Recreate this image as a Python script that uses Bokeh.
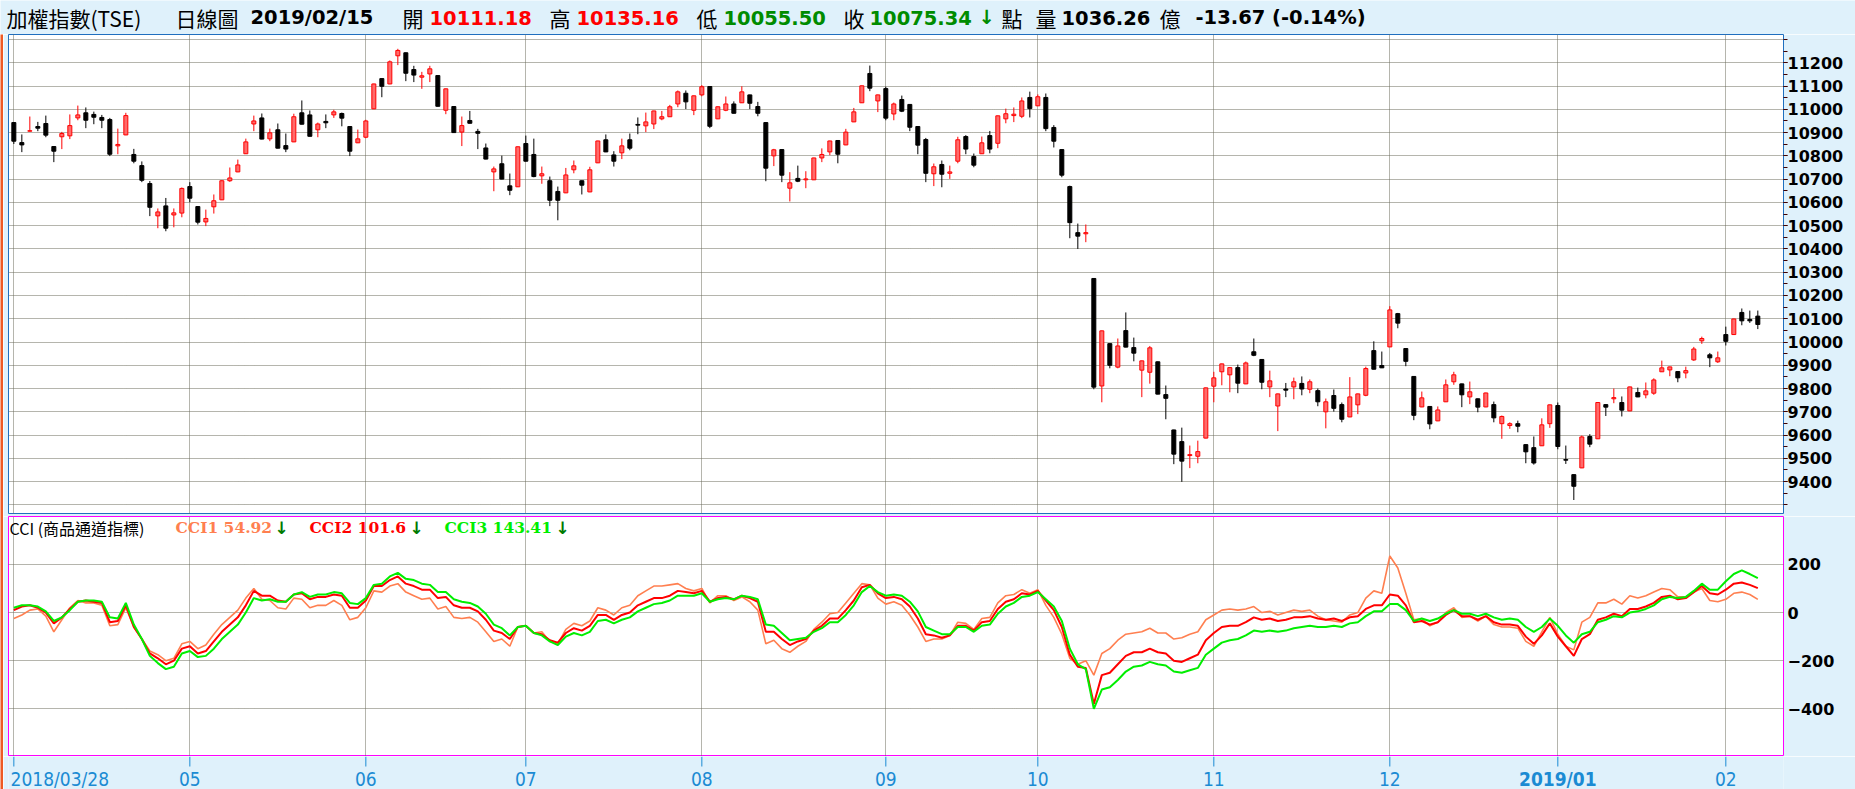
import numpy as np
from bokeh.plotting import figure
from bokeh.layouts import column, row
from bokeh.models import ColumnDataSource, FixedTicker, Range1d
from bokeh.core.properties import value
from bokeh.embed import file_html
from bokeh.resources import INLINE

# ---------------- data ----------------
opens = [10943,10857,10906,10926,10939,10840,10882,10886,10963,10985,10978,10965,10956,10843,10890,10806,10758,10681,10542,10585,
         10546,10554,10668,10582,10516,10581,10611,10693,10731,10809,10937,10963,10873,10912,10844,10860,10985,10976,10912,10948,
         10976,10982,10926,10856,10880,11002,11132,11109,11230,11243,11171,11138,11152,11145,10996,11012,10902,10952,10905,10834,
         10731,10766,10671,10667,10853,10806,10714,10693,10647,10641,10740,10693,10645,10770,10869,10804,10813,10869,10935,10929,
         10937,10959,10968,11023,11069,10996,11062,11098,10959,10996,11023,11028,11062,11012,10943,10800,10827,10661,10703,10697,
         10697,10791,10817,10866,10847,10946,11028,11154,11036,11089,10980,11042,11021,10926,10870,10723,10763,10725,10777,10883,
         10797,10809,10887,10854,10959,10973,10970,11051,11015,11051,10922,10827,10668,10470,10465,10273,9811,9993,9892,10049,
         9976,9879,9870,9915,9774,9622,9572,9512,9509,9587,9810,9872,9859,9890,9820,9958,9925,9807,9725,9798,
         9807,9822,9797,9791,9700,9770,9731,9678,9730,9771,9963,9899,9979,10122,9972,9852,9721,9723,9661,9743,
         9829,9820,9764,9756,9721,9731,9649,9641,9649,9559,9546,9554,9649,9727,9495,9430,9459,9594,9584,9731,
         9756,9740,9704,9783,9773,9780,9872,9880,9873,9867,9923,10005,9945,9915,10032,10032,10127,10097,10111.18]
highs = [10945,10892,10969,10946,10973,10842,10903,10978,11016,11008,10990,10976,10963,10917,10985,10830,10776,10692,10574,10619,
         10574,10664,10687,10583,10569,10634,10695,10750,10784,10874,10973,10982,10917,10939,10896,10981,11038,10995,10943,10978,
         10998,10986,10927,10913,10955,11110,11133,11210,11260,11244,11187,11161,11187,11146,11089,11013,10969,10993,10916,10853,
         10754,10801,10724,10840,10887,10874,10754,10711,10668,10748,10780,10694,10753,10865,10892,10820,10874,10896,10965,10986,
         10994,10993,11019,11081,11081,11059,11104,11099,11012,11055,11034,11099,11063,11032,10944,10830,10828,10730,10758,10734,
         10792,10832,10865,10867,10916,11006,11102,11188,11063,11097,11029,11059,11022,10927,10877,10767,10780,10758,10882,10889,
         10810,10883,10907,10973,11003,11008,11051,11076,11064,11068,10932,10828,10672,10509,10505,10274,10049,9994,10015,10127,
         10019,9920,9983,9916,9813,9623,9632,9555,9576,9804,9872,9907,9891,9903,9916,10015,9926,9877,9778,9824,
         9847,9852,9839,9800,9757,9796,9740,9849,9778,9894,10003,9959,10154,10125,9973,9853,9787,9724,9723,9839,
         9872,9821,9830,9757,9782,9744,9684,9655,9662,9560,9594,9672,9731,9740,9555,9431,9598,9604,9741,9732,
         9800,9766,9808,9804,9826,9844,9920,9894,9874,9894,9979,10023,9953,9959,10066,10100,10144,10135,10135.16]
lows = [10851,10816,10905,10906,10880,10773,10829,10872,10953,10919,10936,10919,10799,10807,10889,10768,10687,10541,10489,10476,
        10493,10536,10601,10505,10498,10552,10610,10688,10730,10808,10906,10871,10863,10832,10816,10859,10935,10883,10880,10919,
        10963,10927,10799,10855,10876,11001,11052,11108,11190,11121,11117,11088,11117,11012,10979,10899,10842,10939,10829,10785,
        10648,10699,10631,10666,10776,10708,10680,10584,10523,10640,10725,10634,10644,10769,10816,10754,10786,10824,10893,10902,
        10915,10953,10967,11009,11001,10975,11056,10919,10958,10992,10982,11027,11001,10970,10691,10756,10687,10604,10687,10661,
        10696,10773,10803,10768,10846,10945,11027,11078,10988,10953,10953,10988,10906,10807,10687,10670,10665,10701,10768,10807,
        10751,10808,10811,10833,10940,10945,10962,10965,11014,10906,10836,10708,10446,10400,10429,9797,9741,9887,9887,9977,
        9917,9763,9821,9775,9668,9475,9399,9458,9479,9586,9741,9814,9784,9780,9819,9939,9797,9763,9617,9763,
        9754,9771,9780,9724,9629,9701,9655,9677,9690,9767,9882,9888,9978,10059,9896,9664,9720,9625,9660,9742,
        9816,9720,9733,9698,9720,9655,9584,9627,9612,9479,9473,9553,9631,9539,9476,9321,9458,9548,9583,9682,
        9737,9680,9703,9763,9758,9773,9871,9853,9827,9844,9919,9992,9892,9910,9985,10031,10072,10082,10055.50]
closes = [10863,10847,10908,10919,10889,10820,10896,10930,10976,10953,10966,10953,10807,10849,10973,10777,10695,10579,10559,10489,
          10555,10660,10618,10515,10531,10607,10693,10705,10761,10860,10950,10872,10899,10833,10829,10968,10936,10884,10937,10942,
          10989,10962,10820,10873,10950,11109,11099,11204,11253,11155,11147,11144,11174,11013,11088,10900,10930,10940,10897,10786,
          10744,10700,10652,10839,10777,10711,10723,10609,10609,10718,10757,10674,10740,10864,10817,10777,10843,10833,10932,10946,
          10993,10968,11011,11075,11032,11058,11097,10927,11011,11023,10983,11075,11026,10983,10747,10826,10717,10684,10691,10701,
          10791,10806,10864,10807,10902,10989,11101,11091,11062,10962,11023,10992,10923,10846,10725,10753,10721,10731,10869,10829,
          10760,10856,10829,10972,10981,10979,11036,11003,11054,10917,10863,10717,10513,10455,10470,9806,10048,9900,9983,9978,
          9952,9919,9975,9776,9758,9518,9488,9516,9529,9803,9846,9906,9890,9823,9910,9943,9827,9833,9777,9793,
          9829,9798,9829,9743,9743,9715,9668,9764,9777,9886,9883,9889,10138,10081,9917,9685,9760,9648,9708,9816,
          9859,9773,9786,9720,9781,9674,9680,9649,9638,9528,9480,9644,9730,9551,9492,9380,9592,9561,9740,9720,
          9761,9707,9807,9764,9790,9837,9889,9893,9846,9877,9970,10015,9932,9932,10003,10099,10091,10091,10075.34]

cci1 = [-25,-10,10,15,-15,-80,-30,20,50,40,40,30,-55,-50,20,-60,-110,-160,-175,-200,
        -190,-130,-120,-150,-135,-90,-50,-20,10,60,100,55,50,20,15,60,55,20,30,30,
        50,30,-30,-20,20,90,85,110,120,85,70,55,60,15,25,-20,-25,-20,-40,-80,
        -120,-110,-140,-60,-55,-85,-80,-120,-130,-70,-45,-55,-35,20,10,-10,20,30,70,90,
        110,110,115,120,100,90,100,40,70,70,50,65,45,10,-130,-115,-150,-165,-140,-120,
        -70,-40,-5,0,40,80,120,115,60,35,45,30,-10,-60,-120,-110,-110,-95,-40,-45,
        -70,-25,-20,40,70,75,95,80,95,30,-20,-90,-190,-215,-200,-260,-170,-150,-115,-90,
        -85,-80,-65,-85,-85,-110,-105,-90,-80,-30,-10,10,15,10,15,25,0,5,-10,0,
        10,5,10,-15,-30,-35,-40,-10,0,60,90,80,235,185,80,-30,-25,-55,-40,0,
        20,-20,-15,-35,-15,-50,-60,-60,-65,-120,-140,-80,-20,-90,-140,-155,-40,-20,40,40,
        55,35,70,60,70,85,100,95,65,65,85,100,50,45,55,80,85,75,54.92]
cci2 = [10,25,30,20,0,-45,-20,15,45,50,45,40,-40,-35,30,-60,-110,-170,-190,-215,
        -200,-150,-140,-170,-160,-120,-80,-50,-20,30,90,70,70,50,45,75,80,55,65,65,
        75,70,20,20,50,110,110,135,150,120,110,95,95,60,65,30,20,20,5,-30,
        -75,-85,-110,-60,-55,-85,-90,-115,-125,-85,-65,-75,-55,-10,-10,-30,-10,0,30,45,
        60,60,70,90,85,80,90,45,60,65,55,70,60,45,-80,-80,-110,-135,-120,-110,
        -75,-55,-25,-25,10,50,105,115,80,60,65,55,25,-25,-90,-95,-105,-95,-55,-55,
        -75,-40,-35,15,45,55,80,75,90,50,10,-60,-175,-225,-230,-380,-260,-250,-215,-180,
        -165,-165,-150,-165,-170,-200,-205,-190,-175,-115,-85,-60,-55,-55,-40,-20,-30,-25,-35,-30,
        -20,-20,-15,-25,-30,-25,-35,-20,-15,15,30,30,75,70,30,-40,-35,-50,-40,-10,
        10,-15,-15,-30,-15,-40,-50,-50,-55,-100,-130,-95,-45,-100,-140,-180,-110,-90,-30,-20,
        -5,-15,15,15,25,40,65,70,55,60,85,110,80,75,95,120,125,115,101.6]
cci3 = [20,30,30,25,5,-35,-20,10,45,50,50,45,-20,-25,40,-50,-110,-180,-210,-235,
        -225,-170,-160,-185,-180,-150,-110,-80,-50,0,60,50,55,45,45,75,85,65,75,75,
        85,80,40,35,60,115,120,150,165,140,135,120,115,85,85,55,45,40,25,-5,
        -50,-65,-95,-60,-55,-85,-95,-120,-135,-100,-85,-95,-80,-35,-30,-45,-30,-20,5,20,
        35,40,50,70,70,70,80,45,55,60,55,70,65,55,-50,-55,-85,-115,-110,-105,
        -80,-65,-40,-40,-10,30,85,110,85,70,75,70,45,5,-60,-75,-90,-90,-60,-60,
        -80,-55,-50,-5,25,40,65,70,85,55,25,-35,-150,-215,-235,-400,-320,-310,-280,-245,
        -225,-220,-205,-215,-220,-245,-250,-240,-230,-175,-150,-125,-115,-110,-95,-75,-80,-75,-80,-75,
        -65,-60,-55,-60,-60,-55,-60,-45,-40,-15,5,5,35,35,10,-35,-25,-35,-25,-5,
        10,-5,-5,-15,-5,-20,-30,-25,-30,-60,-80,-60,-25,-55,-95,-125,-90,-80,-40,-30,
        -15,-20,0,5,15,30,55,65,60,65,90,120,95,95,130,160,175,160,143.41]

month_tick_idx = [0, 22, 44, 64, 86, 109, 128, 150, 172, 193, 214]
month_labels = ["2018/03/28", "05", "06", "07", "08", "09", "10", "11", "12", "2019/01", "02"]
month_label_style = ["normal"] * 9 + ["bold", "normal"]

price_ticks = list(range(9400, 11201, 100))
price_grid = list(range(9300, 11301, 100))
price_minor = list(range(9300, 11301, 50))
cci_ticks = [-400, -200, 0, 200]

header_texts = ["加權指數(TSE)", "日線圖", "2019/02/15", "開", "10111.18", "高", "10135.16", "低", "10055.50",
                "收", "10075.34", "↓", "點", "量", "1036.26", "億", "-13.67 (-0.14%)"]
cci_title = "CCI (商品通道指標)"
cci_legend = ["CCI1 54.92", "CCI2 101.6", "CCI3 143.41"]

# ---------------- style ----------------
BG = "#DFF1FB"
RED = "#FF0000"
RED_FILL = "#FF6B6B"
GREEN_TXT = "#008C00"
AXIS_BLUE = "#1B8BD3"
GRID = "#6A6A5A"
C1, C2, C3 = "#FF7F50", "#FF0000", "#00EE00"
PAGE_W, PAGE_H = 1855, 789
STRIPE_W = 3
LEFT = 5
FRAME_W = 1775
RIGHT = PAGE_W - STRIPE_W - LEFT - FRAME_W
NARROW = "DejaVu Sans Condensed, Liberation Sans Narrow, Roboto Condensed, Roboto, sans-serif"

xr = Range1d(-0.667, 221.21)


def px(xpage):
    """page pixel -> candle index units"""
    return (xpage - 13.33) / 8.0


# ---------------- header ----------------
hdr = figure(frame_width=PAGE_W, frame_height=34, x_range=Range1d(0, PAGE_W), y_range=Range1d(0, 34),
             x_axis_type=None, y_axis_type=None, toolbar_location=None, output_backend="svg",
             min_border=0)
hdr.grid.visible = False
hdr.outline_line_color = None
hdr.background_fill_color = BG
hdr.border_fill_color = BG

hx = [6, 175, 250, 402, 429, 549, 576, 696, 723, 843, 869, 978, 1001, 1035, 1061, 1159, 1195]
hcol = ["black", "black", "black", "black", RED, "black", RED, "black", GREEN_TXT, "black", GREEN_TXT, GREEN_TXT,
        "black", "black", "black", "black", "black"]
hbold = [False, False, True, False, True, False, True, False, True, False, True, True, False, False, True, False, True]
for x, t, col, b in zip(hx, header_texts, hcol, hbold):
    hdr.text(x=[x], y=[17], text=[t], text_color=col, text_baseline="middle", text_align="left",
             text_font=value("DejaVu Sans" if b else "Noto Sans CJK TC"),
             text_font_size="19.5px" if b else "21px", text_font_style="bold" if b else "normal")

# ---------------- left stripe ----------------
stripe = figure(frame_width=STRIPE_W, frame_height=PAGE_H - 34, x_axis_type=None, y_axis_type=None,
                toolbar_location=None, output_backend="svg", min_border=0)
stripe.grid.visible = False
stripe.outline_line_color = None
stripe.background_fill_color = "#EE5A24"
stripe.border_fill_color = "#EE5A24"

# ---------------- main price chart ----------------
p = figure(frame_width=FRAME_W, frame_height=479, x_range=xr, y_range=Range1d(9263, 11321.5),
           y_axis_location="right", toolbar_location=None, output_backend="svg",
           min_border_left=LEFT, min_border_right=RIGHT, min_border_top=0, min_border_bottom=3)
p.background_fill_color = "white"
p.border_fill_color = BG
p.outline_line_color = "#1F6FBF"
p.outline_line_width = 1
p.xaxis.visible = False

p.ygrid.ticker = FixedTicker(ticks=price_grid)
p.xgrid.ticker = FixedTicker(ticks=month_tick_idx)
for g in (p.xgrid, p.ygrid):
    g.grid_line_color = GRID
    g.grid_line_dash = "1 1"
    g.grid_line_width = 1

ya = p.yaxis[0]
ya.ticker = FixedTicker(ticks=price_ticks, minor_ticks=price_minor)
ya.axis_line_color = None
ya.major_tick_in = 0
ya.major_tick_out = 4
ya.minor_tick_in = 0
ya.minor_tick_out = 4
ya.major_tick_line_color = "#400000"
ya.minor_tick_line_color = "#400000"
ya.major_label_standoff = 0
ya.major_label_text_font = "DejaVu Sans"
ya.major_label_text_font_style = "bold"
ya.major_label_text_font_size = "16px"
ya.major_label_text_color = "black"

idx = list(range(len(opens)))
up = [i for i in idx if closes[i] >= opens[i]]
dn = [i for i in idx if closes[i] < opens[i]]
src_up = ColumnDataSource(dict(x=up, o=[opens[i] for i in up], c=[closes[i] for i in up],
                               h=[highs[i] for i in up], l=[lows[i] for i in up]))
src_dn = ColumnDataSource(dict(x=dn, o=[opens[i] for i in dn], c=[closes[i] for i in dn],
                               h=[highs[i] for i in dn], l=[lows[i] for i in dn]))
p.segment(x0="x", y0="l", x1="x", y1="h", source=src_up, line_color=RED, line_width=1)
p.vbar(x="x", width=0.5, bottom="o", top="c", source=src_up, fill_color=RED_FILL, line_color=RED, line_width=1)
p.segment(x0="x", y0="l", x1="x", y1="h", source=src_dn, line_color="black", line_width=1)
p.vbar(x="x", width=0.5, bottom="c", top="o", source=src_dn, fill_color="black", line_color="black", line_width=1)

# ---------------- CCI panel ----------------
c = figure(frame_width=FRAME_W, frame_height=240, x_range=xr, y_range=Range1d(-598, 399),
           y_axis_location="right", toolbar_location=None, output_backend="svg",
           min_border_left=LEFT, min_border_right=RIGHT, min_border_top=0, min_border_bottom=0)
c.background_fill_color = "white"
c.border_fill_color = BG
c.outline_line_color = "#FF00FF"
c.outline_line_width = 1
c.xaxis.visible = False
c.ygrid.ticker = FixedTicker(ticks=cci_ticks)
c.xgrid.ticker = FixedTicker(ticks=month_tick_idx)
for g in (c.xgrid, c.ygrid):
    g.grid_line_color = GRID
    g.grid_line_dash = "1 1"
    g.grid_line_width = 1
ca = c.yaxis[0]
ca.ticker = FixedTicker(ticks=cci_ticks)
ca.axis_line_color = None
ca.major_tick_in = 0
ca.major_tick_out = 4
ca.major_tick_line_color = None
ca.minor_tick_line_color = None
ca.major_label_standoff = 0
ca.major_label_text_font = "DejaVu Sans"
ca.major_label_text_font_style = "bold"
ca.major_label_text_font_size = "16px"
ca.major_label_text_color = "black"

c.line(idx, cci1, line_color=C1, line_width=1.6)
c.line(idx, cci2, line_color=C2, line_width=2)
c.line(idx, cci3, line_color=C3, line_width=2)

# legend texts
c.text(x=[px(9)], y=[353], text=[cci_title], text_font=value("Noto Sans CJK TC"),
       text_font_size="16px", text_color="black", text_baseline="middle")
leg_x = [175, 309, 444]
leg_col = [C1, C2, C3]
arrow_x = [274, 409, 555]
for t, x, col, ax in zip(cci_legend, leg_x, leg_col, arrow_x):
    c.text(x=[px(x)], y=[353], text=[t], text_font=value("DejaVu Serif"), text_font_style="bold",
           text_font_size="15.5px", text_color=col, text_baseline="middle")
    c.text(x=[px(ax)], y=[353], text=["↓"], text_font=value("DejaVu Sans"), text_font_style="bold",
           text_font_size="17px", text_color="#007A00", text_baseline="middle")

# ---------------- date axis strip ----------------
s = figure(frame_width=FRAME_W, frame_height=33, x_range=xr, y_range=Range1d(0, 33),
           x_axis_type=None, y_axis_type=None, toolbar_location=None, output_backend="svg",
           min_border_left=LEFT, min_border_right=RIGHT, min_border_top=0, min_border_bottom=0)
s.grid.visible = False
s.outline_line_color = None
s.background_fill_color = BG
s.border_fill_color = BG
n_t = len(month_tick_idx)
s.segment(x0=month_tick_idx, y0=[33] * n_t, x1=month_tick_idx, y1=[23] * n_t,
          line_color=AXIS_BLUE, line_width=1)
lab_x = list(month_tick_idx)
lab_x[0] = px(10)
lab_align = ["left"] + ["center"] * (n_t - 1)
s.text(x=lab_x, y=[11] * n_t, text=month_labels, text_align=lab_align, text_baseline="middle",
       text_font=value(NARROW), text_font_size="19px", text_color=AXIS_BLUE,
       text_font_style=month_label_style)

layout = column(hdr, row(stripe, column(p, c, s, spacing=0), spacing=0), spacing=0)
open("out.html", "w").write(file_html(layout, INLINE))
